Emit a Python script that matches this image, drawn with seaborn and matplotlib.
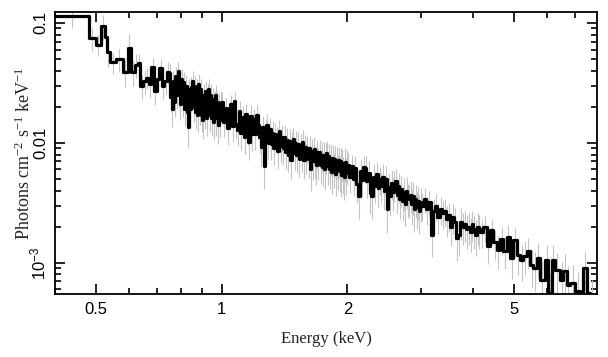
import numpy as np
import pandas as pd
import matplotlib
matplotlib.use("Agg")
import matplotlib.pyplot as plt
from matplotlib.ticker import FixedLocator, FixedFormatter, LogLocator, NullFormatter
import seaborn as sns

# spectrum bin edges (keV)
edges_kev = [
    0.400, 0.482, 0.500, 0.514, 0.526, 0.532, 0.540, 0.558, 0.580, 0.597, 0.606, 0.620, 0.630,
    0.64, 0.65, 0.66, 0.67, 0.68, 0.69, 0.70, 0.71, 0.72, 0.73, 0.74, 0.75,
    0.755, 0.760, 0.765, 0.770, 0.775, 0.780, 0.785, 0.790, 0.795, 0.800,
    0.805, 0.810, 0.815, 0.820, 0.825, 0.830, 0.835, 0.840, 0.845, 0.850,
    0.855, 0.860, 0.865, 0.870, 0.875, 0.880, 0.885, 0.890, 0.895, 0.900,
    0.905, 0.910, 0.915, 0.920, 0.925, 0.930, 0.935, 0.940, 0.945, 0.950,
    0.955, 0.960, 0.965, 0.970, 0.975, 0.980, 0.985, 0.990, 0.995, 1.000,
    1.01, 1.02, 1.03, 1.04, 1.05, 1.06, 1.07, 1.08, 1.09, 1.10,
    1.11, 1.12, 1.13, 1.14, 1.15, 1.16, 1.17, 1.18, 1.19, 1.20,
    1.21, 1.22, 1.23, 1.24, 1.25, 1.26, 1.27, 1.28, 1.29, 1.30,
    1.31, 1.32, 1.33, 1.34, 1.35, 1.36, 1.37, 1.38, 1.39, 1.40,
    1.41, 1.42, 1.43, 1.44, 1.45, 1.46, 1.47, 1.48, 1.49, 1.50,
    1.51, 1.52, 1.53, 1.54, 1.55, 1.56, 1.57, 1.58, 1.59, 1.60,
    1.61, 1.62, 1.63, 1.64, 1.65, 1.66, 1.67, 1.68, 1.69, 1.70,
    1.71, 1.72, 1.73, 1.74, 1.75, 1.76, 1.77, 1.78, 1.79, 1.80,
    1.81, 1.82, 1.83, 1.84, 1.85, 1.86, 1.87, 1.88, 1.89, 1.90,
    1.91, 1.92, 1.93, 1.94, 1.95, 1.96, 1.97, 1.98, 1.99, 2.00,
    2.02, 2.04, 2.06, 2.08, 2.10, 2.12, 2.14, 2.16, 2.18, 2.20,
    2.22, 2.24, 2.26, 2.28, 2.30, 2.32, 2.34, 2.36, 2.38, 2.40,
    2.42, 2.44, 2.46, 2.48, 2.50, 2.52, 2.54, 2.56, 2.58, 2.60,
    2.62, 2.64, 2.66, 2.68, 2.70, 2.72, 2.74, 2.76, 2.78, 2.80,
    2.82, 2.84, 2.86, 2.88, 2.90, 2.92, 2.94, 2.96, 2.98, 3.00,
    3.04, 3.08, 3.12, 3.16, 3.20, 3.24, 3.28, 3.32, 3.36, 3.40,
    3.44, 3.48, 3.52, 3.56, 3.60, 3.64, 3.68, 3.72, 3.76, 3.80,
    3.84, 3.88, 3.92, 3.96, 4.00, 4.04, 4.08, 4.12, 4.151,
    4.227, 4.307, 4.385, 4.466, 4.550, 4.633, 4.718, 4.808, 4.895, 4.985,
    5.079, 5.172, 5.267, 5.366, 5.464, 5.564, 5.668, 5.771, 5.932, 6.040,
    6.155, 6.267, 6.443, 6.561, 6.685, 6.807, 6.998, 7.193, 7.325, 7.463,
    7.600, 7.768,
]

# unfolded flux per bin (photons cm^-2 s^-1 keV^-1)
flux = [
    0.114, 0.075, 0.066, 0.094, 0.076, 0.057, 0.047, 0.050, 0.039, 0.062, 0.039, 0.045,
    0.046, 0.030, 0.033, 0.035, 0.031, 0.043, 0.027, 0.034, 0.042, 0.030, 0.033, 0.039,
    0.038, 0.024, 0.019, 0.033, 0.022, 0.036, 0.025, 0.040, 0.026, 0.021,
    0.034, 0.022, 0.032, 0.019, 0.030, 0.018, 0.0135, 0.028, 0.019, 0.029,
    0.033, 0.020, 0.030, 0.018, 0.028, 0.017, 0.031, 0.019, 0.028, 0.017,
    0.0155, 0.025, 0.018, 0.027, 0.016, 0.025, 0.028, 0.017, 0.025, 0.016,
    0.023, 0.015, 0.022, 0.025, 0.016, 0.022, 0.014, 0.021, 0.0155, 0.022,
    0.0220, 0.0148, 0.0195, 0.0132, 0.0185, 0.0210, 0.0138, 0.0225, 0.0145, 0.0128,
    0.0185, 0.0120, 0.0165, 0.0112, 0.0175, 0.0130, 0.0102, 0.0168, 0.0118, 0.0158,
    0.0118, 0.0172, 0.0140, 0.0112, 0.0092, 0.0135, 0.0064, 0.0125, 0.0140, 0.0100,
    0.0130, 0.0098, 0.0122, 0.0090, 0.0118, 0.0108, 0.0085, 0.0125, 0.0094, 0.0112,
    0.0090, 0.0112, 0.0084, 0.0106, 0.0080, 0.0104, 0.0072, 0.0098, 0.0108, 0.0082,
    0.0100, 0.0079, 0.0098, 0.0074, 0.0095, 0.0080, 0.0102, 0.0072, 0.0093, 0.0078,
    0.0091, 0.0073, 0.0090, 0.0060, 0.0085, 0.0070, 0.0089, 0.0072, 0.0066, 0.0084,
    0.0070, 0.0084, 0.0066, 0.0080, 0.0063, 0.0079, 0.0060, 0.0077, 0.0082, 0.0064,
    0.0077, 0.0061, 0.0074, 0.0057, 0.0075, 0.0062, 0.0073, 0.0055, 0.0071, 0.0060,
    0.0072, 0.0058, 0.0070, 0.0054, 0.0068, 0.0057, 0.0052, 0.0069, 0.0056, 0.0066,
    0.0066, 0.0052, 0.0064, 0.0050, 0.0062, 0.0045, 0.0036, 0.0058, 0.0049, 0.0063,
    0.0062, 0.0048, 0.0056, 0.0038, 0.0036, 0.0052, 0.0044, 0.0055, 0.0042, 0.0050,
    0.0044, 0.0052, 0.0040, 0.0050, 0.0028, 0.0043, 0.0036, 0.0046, 0.0039, 0.0045,
    0.0048, 0.0037, 0.0044, 0.0034, 0.0041, 0.0033, 0.0039, 0.0031, 0.0040, 0.0035,
    0.0034, 0.0037, 0.0031, 0.0036, 0.0028, 0.0034, 0.0029, 0.0033, 0.0027, 0.0032,
    0.0030, 0.0034, 0.0028, 0.0032, 0.0017, 0.0027, 0.0030, 0.0024, 0.0028, 0.0026,
    0.0027, 0.0023, 0.0025, 0.0020, 0.0024, 0.0022, 0.0016, 0.0017, 0.0022, 0.0020,
    0.0021, 0.0019, 0.0020, 0.0018, 0.0021, 0.0019, 0.0017, 0.0020, 0.0019,
    0.00180, 0.00198, 0.00139, 0.00187, 0.00148, 0.00129, 0.00157, 0.00126, 0.00163, 0.00110,
    0.00154, 0.00117, 0.00106, 0.00115, 0.00126, 0.00096, 0.00091, 0.00110, 0.00072, 0.00106,
    0.00056, 0.00106, 0.00087, 0.00072, 0.00086, 0.00065, 0.00068, 0.00058, 0.00056, 0.00091,
    0.00056, 0.00048,
]

# fractional 1-sigma errors per bin
frac_err = [
    0.20, 0.22, 0.20, 0.23, 0.25, 0.24, 0.20, 0.22, 0.25, 0.30, 0.24, 0.23,
    0.20, 0.23, 0.22, 0.20, 0.23, 0.18, 0.24, 0.21, 0.19, 0.23, 0.22, 0.20,
    0.20, 0.24, 0.28, 0.21, 0.25, 0.20, 0.24, 0.19, 0.23, 0.26,
    0.21, 0.25, 0.21, 0.27, 0.22, 0.28, 0.33, 0.22, 0.27, 0.22,
    0.20, 0.26, 0.21, 0.27, 0.22, 0.28, 0.21, 0.26, 0.22, 0.28,
    0.30, 0.23, 0.27, 0.22, 0.28, 0.23, 0.21, 0.27, 0.23, 0.28,
    0.24, 0.29, 0.24, 0.22, 0.28, 0.24, 0.30, 0.24, 0.28, 0.24,
    0.20, 0.25, 0.21, 0.27, 0.22, 0.20, 0.26, 0.19, 0.25, 0.27,
    0.21, 0.27, 0.22, 0.28, 0.21, 0.26, 0.29, 0.22, 0.27, 0.22,
    0.26, 0.20, 0.24, 0.27, 0.30, 0.24, 0.36, 0.25, 0.24, 0.28,
    0.23, 0.27, 0.24, 0.28, 0.24, 0.25, 0.29, 0.23, 0.27, 0.25,
    0.27, 0.24, 0.28, 0.25, 0.29, 0.25, 0.31, 0.26, 0.24, 0.28,
    0.25, 0.29, 0.25, 0.30, 0.26, 0.29, 0.25, 0.31, 0.26, 0.29,
    0.26, 0.30, 0.26, 0.34, 0.27, 0.30, 0.26, 0.30, 0.32, 0.27,
    0.30, 0.27, 0.31, 0.28, 0.32, 0.28, 0.33, 0.29, 0.27, 0.31,
    0.28, 0.32, 0.29, 0.34, 0.29, 0.32, 0.29, 0.35, 0.30, 0.32,
    0.29, 0.33, 0.30, 0.35, 0.31, 0.34, 0.36, 0.31, 0.34, 0.32,
    0.24, 0.27, 0.25, 0.28, 0.25, 0.30, 0.35, 0.26, 0.28, 0.24,
    0.25, 0.28, 0.26, 0.33, 0.35, 0.27, 0.29, 0.26, 0.30, 0.27,
    0.29, 0.27, 0.31, 0.28, 0.37, 0.29, 0.32, 0.28, 0.31, 0.29,
    0.27, 0.31, 0.28, 0.32, 0.29, 0.32, 0.30, 0.34, 0.30, 0.31,
    0.31, 0.30, 0.33, 0.31, 0.35, 0.31, 0.34, 0.31, 0.35, 0.32,
    0.25, 0.23, 0.26, 0.24, 0.34, 0.27, 0.25, 0.28, 0.26, 0.27,
    0.26, 0.29, 0.27, 0.31, 0.28, 0.29, 0.35, 0.33, 0.29, 0.30,
    0.29, 0.31, 0.30, 0.32, 0.29, 0.31, 0.33, 0.30, 0.31,
    0.26, 0.24, 0.30, 0.25, 0.28, 0.31, 0.26, 0.30, 0.26, 0.33,
    0.27, 0.32, 0.34, 0.31, 0.29, 0.35, 0.36, 0.32, 0.41, 0.33,
    0.46, 0.33, 0.38, 0.42, 0.38, 0.44, 0.42, 0.46, 0.48, 0.36,
    0.48, 0.50,
]

edges = np.array(edges_kev)
df = pd.DataFrame({
    "energy": np.sqrt(edges[:-1] * edges[1:]),
    "flux": flux,
    "frac_err": frac_err,
})
df["err"] = df["flux"] * df["frac_err"]

sns.set_style("ticks")
plt.rcParams["font.family"] = ["Liberation Sans", "DejaVu Sans"]
plt.rcParams["mathtext.fontset"] = "custom"
plt.rcParams["mathtext.rm"] = "Liberation Serif"
plt.rcParams["mathtext.it"] = "Liberation Serif:italic"
plt.rcParams["mathtext.sf"] = "Liberation Sans"

fig = plt.figure(figsize=(6.08, 3.57), dpi=100)
ax = fig.add_axes([0.0905, 0.1765, 0.8915, 0.7895])

ax.errorbar(df["energy"], df["flux"], yerr=df["err"], fmt="none", ecolor="#c4c4c4",
            elinewidth=0.8, capsize=0, zorder=1)
# bins passed as a plain list (seaborn compares bins to "auto")
sns.histplot(data=df, x="energy", weights="flux", bins=list(edges_kev), element="step",
             fill=False, color="black", linewidth=2.3, ax=ax, zorder=2)

ax.set_xscale("log")
ax.set_yscale("log")
ax.set_xlim(0.40, 7.9)
ax.set_ylim(5.5e-4, 0.123)

ax.xaxis.set_major_locator(FixedLocator([0.5, 1, 2, 5]))
ax.xaxis.set_major_formatter(FixedFormatter(["0.5", "1", "2", "5"]))
ax.xaxis.set_minor_locator(FixedLocator([0.4, 0.6, 0.7, 0.8, 0.9, 3, 4, 6, 7]))
ax.xaxis.set_minor_formatter(NullFormatter())
ax.yaxis.set_major_locator(FixedLocator([1e-3, 1e-2, 1e-1]))
ax.yaxis.set_major_formatter(FixedFormatter([r"$\mathsf{10^{-3}}$", "0.01", "0.1"]))
ax.yaxis.set_minor_locator(LogLocator(base=10, subs=np.arange(2, 10)))
ax.yaxis.set_minor_formatter(NullFormatter())

ax.tick_params(which="both", direction="in", top=True, right=True,
               width=1.2, colors="black", labelsize=12)
ax.tick_params(which="major", length=7)
ax.tick_params(which="minor", length=4)
ax.tick_params(axis="x", pad=6)
ax.tick_params(axis="y", labelrotation=90, pad=5)
for lab in ax.get_yticklabels():
    lab.set_verticalalignment("center")

for sp in ax.spines.values():
    sp.set_linewidth(1.3)
    sp.set_color("black")

ax.set_xlabel("Energy (keV)", family="Liberation Serif", fontsize=12, labelpad=10)
ax.set_ylabel(r"Photons cm$^{-2}$ s$^{-1}$ keV$^{-1}$", family="Liberation Serif",
              fontsize=13, labelpad=-4)

fig.savefig("out.png", dpi=100)
